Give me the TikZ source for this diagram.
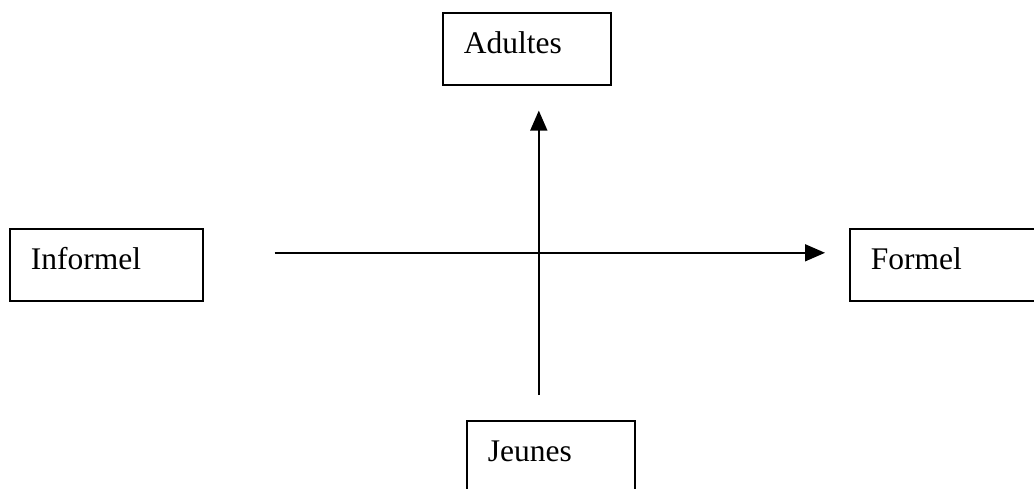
\documentclass[tikz,border=0pt]{standalone}
\usepackage{fontspec}
\setmainfont{Liberation Serif}
\usetikzlibrary{arrows.meta, positioning}

\begin{document}
\begin{tikzpicture}[x=1pt, y=-1pt, >={Triangle[length=20pt, width=17pt]},
	boite/.style={draw, rectangle, line width=1.6pt, anchor=north west, align=left,
		inner xsep=21pt, inner ysep=10pt, text height=31pt, text depth=21pt,
		font=\fontsize{31.5}{37}\selectfont},
	fleche/.style={->, line width=1.6pt}]
	\useasboundingbox (0,0) rectangle (1034,488);
	
	% les quatre boites
	\node[boite, text width=126pt] (adultes) at (442,12) {Adultes};
	\node[boite, text width=151pt] (informel) at (9,228) {Informel};
	\node[boite, text width=150pt] (formel) at (849,228) {Formel};
	\node[boite, text width=126pt] (jeunes) at (466,420) {Jeunes};
	
	% axes
	% de l'informel vers le formel
	\draw[fleche, shorten <=71pt, shorten >=24pt] ([yshift=12pt]informel.east) -- ([yshift=12pt]formel.west);
	
	% des jeunes vers les adultes
	\draw[fleche, shorten <=25pt, shorten >=25pt] ([xshift=-12pt]jeunes.north) -- ([xshift=12pt]adultes.south);
	
\end{tikzpicture}
\end{document}
